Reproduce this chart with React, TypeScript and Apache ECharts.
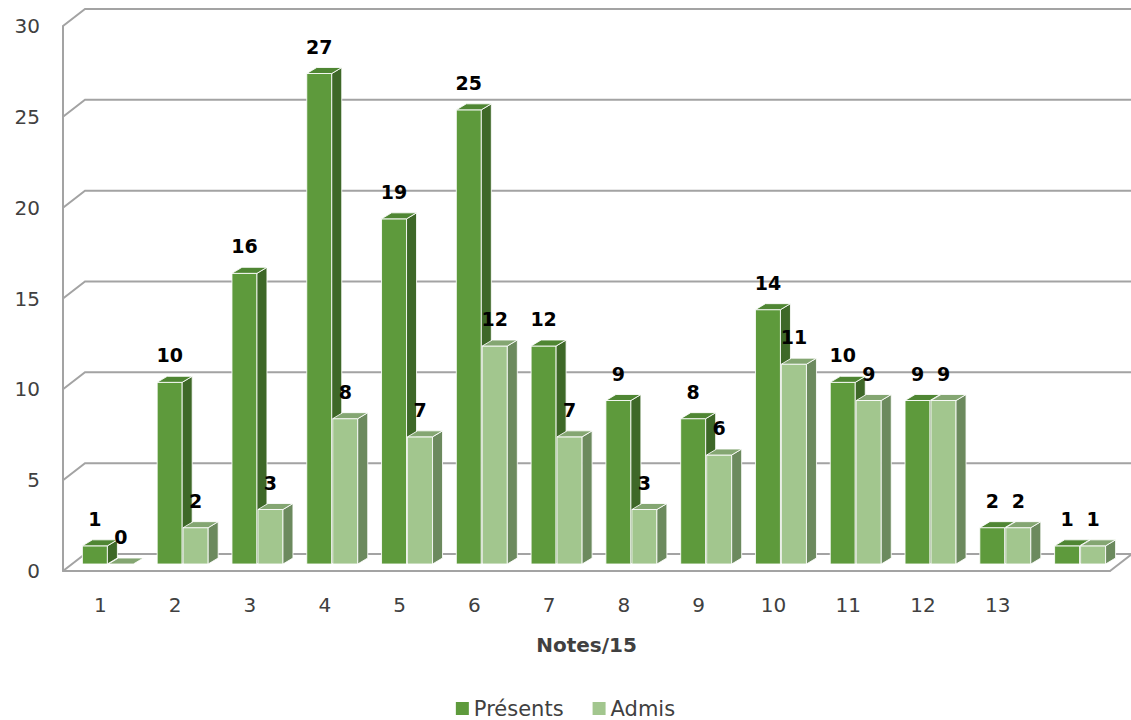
import React, { useEffect, useRef } from "react";
import * as echarts from "echarts";

const categories = ["1", "2", "3", "4", "5", "6", "7", "8", "9", "10", "11", "12", "13", ""];
const presents = [1, 10, 16, 27, 19, 25, 12, 9, 8, 14, 10, 9, 2, 1];
const admis = [0, 2, 3, 8, 7, 12, 7, 3, 6, 11, 9, 9, 2, 1];
const yTicks = [0, 5, 10, 15, 20, 25, 30];
const seriesNames = ["Présents", "Admis"];
const xName = "Notes/15";

const FONT = "DejaVu Sans";
const BW = 25; // bar front width
const DX = 10; // bar depth x
const DY = -6; // bar depth y
const PY = -7; // shift into the box
const WX = 22; // wall depth
const WY = -17;
const GRID_COLOR = "#a3a3a3";

function makeRender(offset: number, front: string, topC: string, side: string) {
  return (params: any, api: any) => {
    const idx = api.value(0);
    const v = api.value(1);
    const base = api.coord([idx, 0]);
    const top = api.coord([idx, v]);
    const left = base[0] + offset;
    const right = left + BW;
    const yb = base[1] + PY;
    const yt = top[1] + PY;
    const stroke = "rgba(255,255,255,0.85)";
    const children: any[] = [];
    if (yb - yt > 0.5) {
      children.push({
        type: "rect",
        shape: { x: left, y: yt, width: BW, height: yb - yt },
        style: { fill: front, stroke, lineWidth: 1 },
      });
      children.push({
        type: "polygon",
        shape: { points: [[right, yt], [right + DX, yt + DY], [right + DX, yb + DY], [right, yb]] },
        style: { fill: side, stroke, lineWidth: 1 },
      });
    }
    children.push({
      type: "polygon",
      shape: { points: [[left, yt], [right, yt], [right + DX, yt + DY], [left + DX, yt + DY]] },
      style: { fill: topC, stroke, lineWidth: 1 },
    });
    children.push({
      type: "text",
      style: {
        x: left + BW / 2,
        y: yt - 27,
        text: String(v),
        fill: "#000",
        font: `bold 19px "${FONT}"`,
        align: "center",
        verticalAlign: "middle",
      },
    });
    return { type: "group", children };
  };
}

function renderWall(params: any, api: any) {
  const v = api.value(1);
  const p = api.coord([0, v]);
  const x0 = params.coordSys.x;
  const w = params.coordSys.width;
  const y = p[1];
  const children: any[] = [
    {
      type: "polyline",
      shape: { points: [[x0, y], [x0 + WX, y + WY], [x0 + w + WX, y + WY]] },
      style: { stroke: GRID_COLOR, lineWidth: 2, fill: "none" },
    },
  ];
  if (v === 0) {
    children.push({
      type: "line",
      shape: { x1: x0 + w, y1: y, x2: x0 + w + WX, y2: y + WY },
      style: { stroke: GRID_COLOR, lineWidth: 2 },
    });
  }
  return { type: "group", children };
}

export default function App() {
  const ref = useRef<HTMLDivElement>(null);
  useEffect(() => {
    document.body.style.margin = "0";
    if (!ref.current) return;
    const chart = echarts.init(ref.current, undefined, { renderer: "svg" });
    chart.setOption({
      animation: false,
      backgroundColor: "#fff",
      grid: { left: 63, top: 26, width: 1047, height: 545 },
      legend: {
        data: seriesNames,
        top: 693,
        left: "center",
        icon: "rect",
        itemWidth: 13,
        itemHeight: 13,
        itemGap: 29,
        textStyle: { fontFamily: FONT, fontSize: 21, color: "#404040" },
      },
      xAxis: {
        type: "category",
        data: categories,
        name: xName,
        nameLocation: "middle",
        nameGap: 64,
        nameTextStyle: { fontFamily: FONT, fontSize: 20, fontWeight: "bold", color: "#404040" },
        axisLine: { lineStyle: { color: GRID_COLOR, width: 2 } },
        axisTick: { show: false },
        axisLabel: { fontFamily: FONT, fontSize: 20, color: "#404040", margin: 24 },
      },
      yAxis: {
        type: "value",
        min: 0,
        max: 30,
        interval: 5,
        axisLine: { show: true, lineStyle: { color: GRID_COLOR, width: 2 } },
        axisTick: { show: false },
        splitLine: { show: false },
        axisLabel: { fontFamily: FONT, fontSize: 20, color: "#404040", margin: 23 },
      },
      series: [
        {
          type: "custom",
          name: "wall",
          z: 1,
          silent: true,
          renderItem: renderWall,
          data: yTicks.map((t) => [0, t]),
          encode: { x: 0, y: 1 },
        },
        {
          type: "custom",
          name: seriesNames[0],
          z: 2,
          itemStyle: { color: "#5e9a3c" },
          renderItem: makeRender(-18, "#5e9a3c", "#4f8633", "#3e6828"),
          data: presents.map((v, i) => [i, v]),
          encode: { x: 0, y: 1 },
        },
        {
          type: "custom",
          name: seriesNames[1],
          z: 3,
          itemStyle: { color: "#a2c68e" },
          renderItem: makeRender(8, "#a2c68e", "#84a672", "#6c8a5e"),
          data: admis.map((v, i) => [i, v]),
          encode: { x: 0, y: 1 },
        },
      ],
    });
    return () => chart.dispose();
  }, []);
  return <div ref={ref} style={{ width: 1131, height: 720 }} />;
}
